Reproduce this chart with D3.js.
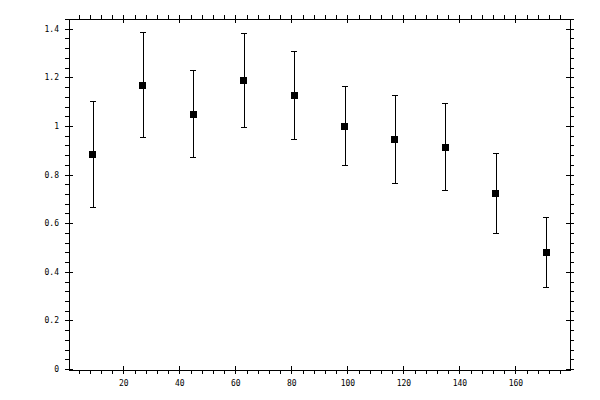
<!DOCTYPE html>
<html>
<head>
<meta charset="utf-8">
<script src="https://cdn.jsdelivr.net/npm/d3@7"></script>
<style>
  html, body { margin: 0; padding: 0; background: #fff; }
  svg { display: block; }
</style>
</head>
<body>
<script>
// ---- data ----
const angles = [9, 27, 45, 63, 81, 99, 117, 135, 153, 171];
const values = [0.883, 1.167, 1.047, 1.187, 1.125, 0.998, 0.944, 0.912, 0.722, 0.480];
const upper  = [1.101, 1.384, 1.227, 1.380, 1.306, 1.162, 1.125, 1.092, 0.887, 0.624];
const lower  = [0.665, 0.953, 0.872, 0.994, 0.944, 0.838, 0.764, 0.735, 0.558, 0.337];
const xMajorTicks = [20, 40, 60, 80, 100, 120, 140, 160];
const xTickLabels = ["20", "40", "60", "80", "100", "120", "140", "160"];
const yMajorTicks = [0, 0.2, 0.4, 0.6, 0.8, 1, 1.2, 1.4];
const yTickLabels = ["0", "0.2", "0.4", "0.6", "0.8", "1", "1.2", "1.4"];
const xMinorStep = 4;
const yMinorStep = 0.04;

const W = 600, H = 400;
const pL = 69, pR = 570, pT = 19, pB = 370;

const x = d3.scaleLinear().domain([0.6, 179.5]).range([pL, pR]);
const y = d3.scaleLinear().domain([-0.004, 1.44]).range([pB, pT]);

const xMinor = d3.range(xMinorStep, 180, xMinorStep).filter(v => v % 20 !== 0);
const yMinor = d3.range(0, 1.441, yMinorStep).map(v => +v.toFixed(2))
  .filter(v => Math.abs(Math.round(v / 0.2) * 0.2 - v) > 1e-6);

const svg = d3.select("body").append("svg")
  .attr("width", W).attr("height", H)
  .attr("shape-rendering", "crispEdges");

const font = "'DejaVu Sans Mono', monospace";

function styleAxis(g) {
  g.select(".domain").remove();
  g.selectAll("line").attr("stroke", "#000").attr("stroke-width", 1);
  g.selectAll("text").attr("font-family", font).attr("font-size", 8).attr("fill", "#000");
}

const xLabel = d => xTickLabels[xMajorTicks.indexOf(d)];
const yLabel = d => yTickLabels[yMajorTicks.indexOf(d)];

// bottom axis: major out (labels), major in, minor out
svg.append("g").attr("transform", `translate(0,${pB})`)
  .call(d3.axisBottom(x).tickValues(xMajorTicks).tickSize(4).tickPadding(6).tickFormat(xLabel)).call(styleAxis);
svg.append("g").attr("transform", `translate(0,${pB})`)
  .call(d3.axisTop(x).tickValues(xMajorTicks).tickSize(4).tickFormat("")).call(styleAxis);
svg.append("g").attr("transform", `translate(0,${pB})`)
  .call(d3.axisBottom(x).tickValues(xMinor).tickSize(4).tickFormat("")).call(styleAxis);

// top axis
svg.append("g").attr("transform", `translate(0,${pT})`)
  .call(d3.axisTop(x).tickValues(xMajorTicks).tickSize(4).tickFormat("")).call(styleAxis);
svg.append("g").attr("transform", `translate(0,${pT})`)
  .call(d3.axisBottom(x).tickValues(xMajorTicks).tickSize(4).tickFormat("")).call(styleAxis);
svg.append("g").attr("transform", `translate(0,${pT})`)
  .call(d3.axisTop(x).tickValues(xMinor).tickSize(4).tickFormat("")).call(styleAxis);

// left axis
svg.append("g").attr("transform", `translate(${pL},0)`)
  .call(d3.axisLeft(y).tickValues(yMajorTicks).tickSize(4).tickPadding(6).tickFormat(yLabel)).call(styleAxis);
svg.append("g").attr("transform", `translate(${pL},0)`)
  .call(d3.axisRight(y).tickValues(yMajorTicks).tickSize(4).tickFormat("")).call(styleAxis);
svg.append("g").attr("transform", `translate(${pL},0)`)
  .call(d3.axisLeft(y).tickValues(yMinor).tickSize(4).tickFormat("")).call(styleAxis);

// right axis
svg.append("g").attr("transform", `translate(${pR},0)`)
  .call(d3.axisRight(y).tickValues(yMajorTicks).tickSize(4).tickFormat("")).call(styleAxis);
svg.append("g").attr("transform", `translate(${pR},0)`)
  .call(d3.axisLeft(y).tickValues(yMajorTicks).tickSize(4).tickFormat("")).call(styleAxis);
svg.append("g").attr("transform", `translate(${pR},0)`)
  .call(d3.axisRight(y).tickValues(yMinor).tickSize(4).tickFormat("")).call(styleAxis);

// frame
svg.append("rect")
  .attr("x", pL).attr("y", pT)
  .attr("width", pR - pL).attr("height", pB - pT)
  .attr("fill", "none").attr("stroke", "#000").attr("stroke-width", 1);

// data
const pts = angles.map((a, i) => ({ a, v: values[i], hi: upper[i], lo: lower[i] }));
const g = svg.append("g");
const cap = 3, ms = 7;

g.selectAll("line.err").data(pts).join("line").attr("class", "err")
  .attr("x1", d => Math.round(x(d.a))).attr("x2", d => Math.round(x(d.a)))
  .attr("y1", d => y(d.hi)).attr("y2", d => y(d.lo))
  .attr("stroke", "#000").attr("stroke-width", 1);
g.selectAll("line.capt").data(pts).join("line").attr("class", "capt")
  .attr("x1", d => Math.round(x(d.a)) - cap).attr("x2", d => Math.round(x(d.a)) + cap)
  .attr("y1", d => y(d.hi)).attr("y2", d => y(d.hi))
  .attr("stroke", "#000").attr("stroke-width", 1);
g.selectAll("line.capb").data(pts).join("line").attr("class", "capb")
  .attr("x1", d => Math.round(x(d.a)) - cap).attr("x2", d => Math.round(x(d.a)) + cap)
  .attr("y1", d => y(d.lo)).attr("y2", d => y(d.lo))
  .attr("stroke", "#000").attr("stroke-width", 1);
g.selectAll("rect.mk").data(pts).join("rect").attr("class", "mk")
  .attr("x", d => x(d.a) - ms / 2).attr("y", d => y(d.v) - ms / 2)
  .attr("width", ms).attr("height", ms).attr("fill", "#000");
</script>
</body>
</html>
